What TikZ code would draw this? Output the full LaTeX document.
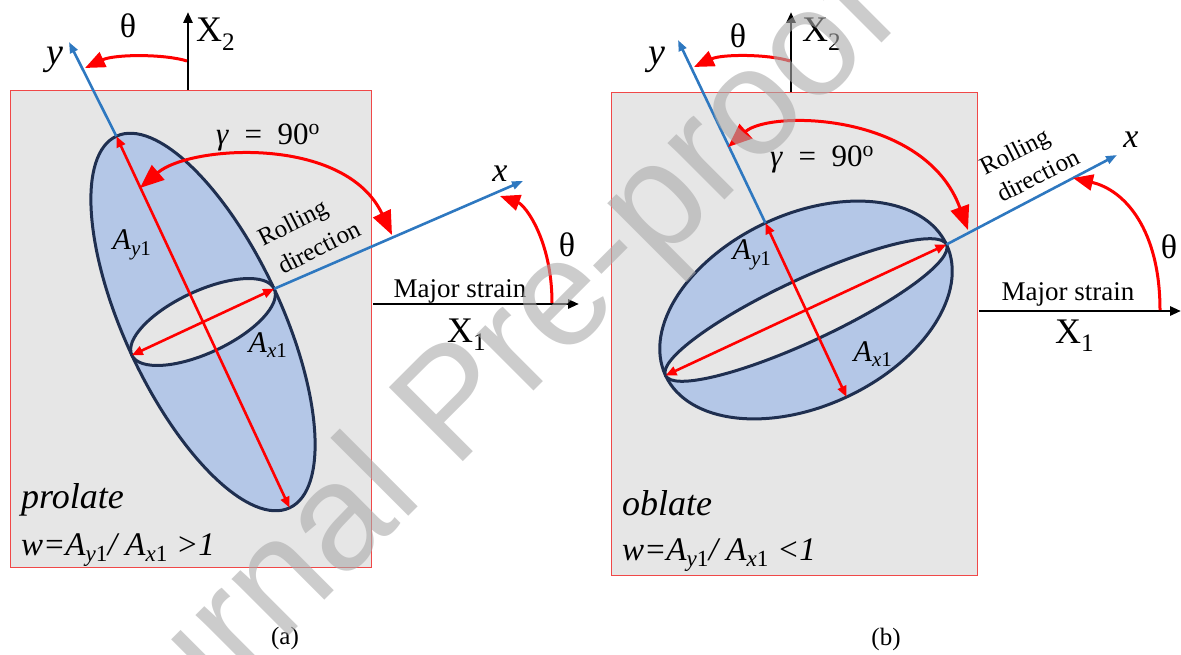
\documentclass[tikz,border=0pt]{standalone}
\usepackage{fontspec}
\setmainfont{Liberation Serif}
\newfontfamily\wmfont{Liberation Sans}
\usetikzlibrary{arrows.meta}
\definecolor{bgray}{HTML}{E6E6E6}
\definecolor{efill}{HTML}{B4C7E7}
\definecolor{edraw}{HTML}{1F2F50}
\definecolor{axblue}{HTML}{2E78C0}
\definecolor{boxred}{HTML}{F04848}
\definecolor{wmgray}{HTML}{AAAAAA}
\begin{document}
\begin{tikzpicture}[x=1pt,y=-1pt,
  panel/.style={draw=boxred, line width=0.9pt, fill=bgray},
  bigell/.style={draw=edraw, line width=3pt, fill=efill},
  innell/.style={draw=edraw, line width=3pt, fill=bgray},
  dimarrow/.style={draw=red, line width=2.6pt, {Triangle[length=11pt,width=9pt]}-{Triangle[length=11pt,width=9pt]}},
  bluaxis/.style={draw=axblue, line width=2.6pt, -{Triangle[length=11pt,width=8pt]}},
  blkaxis/.style={draw=black, line width=2.8pt, -{Triangle[length=11pt,width=9pt]}},
  gamarc/.style={draw=red, line width=3pt, {Triangle[length=24pt,width=19pt]}-{Triangle[length=24pt,width=19pt]}},
  thetaarc/.style={draw=red, line width=3pt, -{Triangle[length=20pt,width=16pt]}},
  lbl/.style={inner sep=0pt, font=\fontsize{30}{30}\selectfont},
  thlbl/.style={inner sep=0pt, font=\fontsize{34}{34}\selectfont},
  ylbl/.style={inner sep=0pt, font=\fontsize{38}{38}\selectfont\itshape},
  xlbl/.style={inner sep=0pt, font=\fontsize{34}{34}\selectfont\itshape},
  axlbl/.style={inner sep=0pt, anchor=base west, font=\fontsize{36}{36}\selectfont},
  rolltxt/.style={inner sep=0pt, anchor=base west, rotate=27, font=\fontsize{25}{25}\selectfont},
  majtxt/.style={inner sep=0pt, anchor=base, font=\fontsize{27}{27}\selectfont},
  shapetxt/.style={inner sep=0pt, anchor=base west, font=\fontsize{36}{36}\selectfont\itshape},
  formtxt/.style={inner sep=0pt, anchor=base west, font=\fontsize{33}{33}\selectfont\itshape},
  captxt/.style={inner sep=0pt, font=\fontsize{25}{25}\selectfont},
  gamtxt/.style={inner sep=0pt, font=\fontsize{31}{31}\selectfont}
]
\useasboundingbox (0,0) rectangle (1181,655);

% ---------------- panel (a) ----------------
\node[panel, minimum width=361pt, minimum height=477pt, inner sep=0pt, anchor=north west] (boxA) at (10,90) {};
\coordinate (cA) at (203,322);
\coordinate (AyTopA) at (116.36,136.21);
\coordinate (AyBotA) at (289.64,507.79);
\coordinate (AxLA) at (131.85,355.18);
\coordinate (AxRA) at (274.15,288.82);
\coordinate (yTipA) at (69,42);
\coordinate (xTipA) at (523,181);
\coordinate (X2baseA) at (188,90);
\coordinate (X2tipA) at (188,12);
\coordinate (X1baseA) at (373,304);
\coordinate (X1tipA) at (579,304);

\draw[blkaxis] (X2baseA) -- (X2tipA);
\draw[bigell, rotate around={25:(cA)}] (cA) ellipse [x radius=78.5, y radius=205];
\draw[innell, rotate around={25:(cA)}] (cA) ellipse [x radius=78.5, y radius=31];
\draw[bluaxis] (AyTopA) -- (yTipA);
\draw[bluaxis] (AxRA) -- (xTipA);
\draw[dimarrow] (AyTopA) -- (AyBotA);
\draw[dimarrow] (AxLA) -- (AxRA);
\draw[blkaxis] (X1baseA) -- (X1tipA);

\draw[thetaarc] (187,61) .. controls (165,54) and (115,54) .. (85,68);
\draw[gamarc] (140,188) .. controls (190,145) and (345,135) .. (392,235);
\draw[thetaarc] (552,303) .. controls (552,240) and (525,205) .. (500,196);

\node[thlbl] (thA1) at (128,26) {θ};
\node[thlbl] (thA2) at (567,245) {θ};
\node[ylbl] (yA) at (55,60) {y};
\node[xlbl] (xA) at (500,174) {x};
\node[axlbl] (X2A) at (196,42) {X\textsubscript{2}};
\node[axlbl] (X1A) at (447,342) {X\textsubscript{1}};
\node[majtxt] (majA) at (460,297) {Major strain};
\node[rolltxt] (rolA) at (263,247) {Rolling};
\node[rolltxt] (dirA) at (283,275) {direction};
\node[gamtxt] (gamA) at (268,137) {\textit{γ}\hspace{0.5em}=\hspace{0.5em}90\textsuperscript{o}};
\node[lbl] (AyA) at (132,245) {\textit{A}\textsubscript{\textit{y}1}};
\node[lbl] (AxA) at (268,345) {\textit{A}\textsubscript{\textit{x}1}};
\node[shapetxt] (proA) at (21,508) {prolate};
\node[formtxt] (wA) at (21,555) {w=A\textsubscript{y\upshape 1}/ A\textsubscript{x\upshape 1} >1};
\node[captxt] (capA) at (285,638) {(a)};

% ---------------- panel (b) ----------------
\node[panel, minimum width=366pt, minimum height=483pt, inner sep=0pt, anchor=north west] (boxB) at (611,92) {};
\coordinate (cB) at (806,310);
\coordinate (AyTopB) at (765.43,222.99);
\coordinate (AyBotB) at (846.57,397.01);
\coordinate (AxLB) at (665.52,375.51);
\coordinate (AxRB) at (946.48,244.49);
\coordinate (yTipB) at (678,40);
\coordinate (xTipB) at (1117,155);
\coordinate (X2baseB) at (791,92);
\coordinate (X2tipB) at (791,12);
\coordinate (X1baseB) at (979,311);
\coordinate (X1tipB) at (1181,311);

\draw[blkaxis] (X2baseB) -- (X2tipB);
\draw[bigell, rotate around={25:(cB)}] (cB) ellipse [x radius=155, y radius=96];
\draw[innell, rotate around={25:(cB)}] (cB) ellipse [x radius=155, y radius=31];
\draw[bluaxis] (AyTopB) -- (yTipB);
\draw[bluaxis] (AxRB) -- (xTipB);
\draw[dimarrow] (AyTopB) -- (AyBotB);
\draw[dimarrow] (AxLB) -- (AxRB);
\draw[blkaxis] (X1baseB) -- (X1tipB);

\draw[thetaarc] (790,61) .. controls (768,54) and (722,54) .. (694,67);
\draw[gamarc] (728,147) .. controls (770,110) and (925,112) .. (968,230);
\draw[thetaarc] (1160,310) .. controls (1160,230) and (1125,190) .. (1073,178);

\node[thlbl] (thB1) at (738,36) {θ};
\node[thlbl] (thB2) at (1169,247) {θ};
\node[ylbl] (yB) at (657,60) {y};
\node[xlbl] (xB) at (1131,140) {x};
\node[axlbl] (X2B) at (802,42) {X\textsubscript{2}};
\node[axlbl] (X1B) at (1055,343) {X\textsubscript{1}};
\node[majtxt] (majB) at (1068,300) {Major strain};
\node[rolltxt] (rolB) at (985,176) {Rolling};
\node[rolltxt] (dirB) at (1002,203) {direction};
\node[gamtxt] (gamB) at (822,159) {\textit{γ}\hspace{0.5em}=\hspace{0.5em}90\textsuperscript{o}};
\node[lbl] (AyB) at (752,255) {\textit{A}\textsubscript{\textit{y}1}};
\node[lbl] (AxB) at (873,354) {\textit{A}\textsubscript{\textit{x}1}};
\node[shapetxt] (obB) at (622,515) {oblate};
\node[formtxt] (wB) at (622,560) {w=A\textsubscript{y\upshape 1}/ A\textsubscript{x\upshape 1} <1};
\node[captxt] (capB) at (886,639) {(b)};

% ---------------- watermark ----------------
\node[rotate=45, anchor=base east, inner sep=0pt, text=wmgray, text opacity=0.6,
  font=\wmfont\fontsize{152}{152}\selectfont] (wm) at (903,22) {Journal Pre-proof};
\end{tikzpicture}
\end{document}
